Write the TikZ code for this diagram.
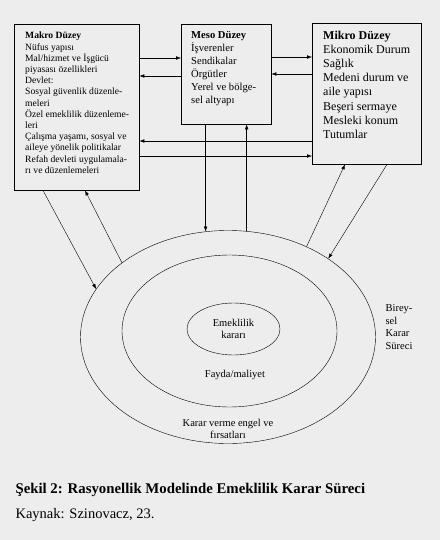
\documentclass[tikz,border=0pt]{standalone}
\usepackage{fontspec}
\setmainfont{Liberation Serif}
\usetikzlibrary{arrows.meta,shapes.geometric,calc}

\tikzset{
  box/.style={draw, thin, anchor=north west, inner sep=0pt},
  boxtext/.style={anchor=north west, align=left, inner sep=0pt},
  ring/.style={draw, ellipse, thin, inner sep=0pt},
  arr/.style={thin, -{Latex[length=5pt,width=3.6pt]}},
}

\begin{document}
\begin{tikzpicture}[x=1pt,y=-1pt]
    \useasboundingbox (0,0) rectangle (440,540);
    \fill[black!7] (0,0) rectangle (440,540);

    % The three levels
    \node[box, minimum width=125pt, minimum height=166pt] (makro) at (14,24) {};
    \node[box, minimum width=90pt, minimum height=100pt] (meso) at (181,24) {};
    \node[box, minimum width=109pt, minimum height=141pt] (mikro) at (312,23) {};

    \node[boxtext, font=\fontsize{9.6}{11.2}\selectfont] (makrotxt) at (25,32)
        {\textbf{Makro Düzey}\\Nüfus yapısı\\Mal/hizmet ve İşgücü\\piyasası özellikleri\\Devlet:\\
         Sosyal güvenlik düzenle-\\meleri\\Özel emeklilik düzenleme-\\leri\\
         Çalışma yaşamı, sosyal ve\\aileye yönelik politikalar\\Refah devleti uygulamala-\\rı ve düzenlemeleri};
    \node[boxtext, font=\fontsize{10.6}{13}\selectfont] (mesotxt) at (191,31)
        {\textbf{Meso Düzey}\\İşverenler\\Sendikalar\\Örgütler\\Yerel ve bölge-\\sel altyapı};
    \node[boxtext, font=\fontsize{12}{14.1}\selectfont] (mikrotxt) at (323,31)
        {\textbf{Mikro Düzey}\\Ekonomik Durum\\Sağlık\\Medeni durum ve\\aile yapısı\\Beşeri sermaye\\Mesleki konum\\Tutumlar};

    % Individual decision process
    \node[ring, minimum width=295pt, minimum height=213pt] (outer) at (228,337) {};
    \node[ring, minimum width=215pt, minimum height=152pt] (middle) at (229.5,331) {};
    \node[ring, minimum width=93pt, minimum height=52pt] (inner) at (233.5,329) {};

    \node[align=center, font=\fontsize{10.5}{12.3}\selectfont] (karar) at (inner.center) {Emeklilik\\kararı};
    \node[font=\fontsize{10.5}{12.3}\selectfont] (fayda) at (235,375) {Fayda/maliyet};
    \node[align=center, font=\fontsize{10.5}{12.3}\selectfont] (engel) at (228,429) {Karar verme engel ve\\fırsatları};
    \node[align=left, font=\fontsize{10.5}{12.8}\selectfont] (bireysel) at (399,327) {Birey-\\sel\\Karar\\Süreci};

    % Links between the levels
    \draw[arr] (makro.east |- 0,58) -- (meso.west |- 0,58);
    \draw[arr] (meso.west |- 0,76) -- (makro.east |- 0,76);
    \draw[arr] (meso.east |- 0,57) -- (mikro.west |- 0,57);
    \draw[arr] (mikro.west |- 0,74) -- (meso.east |- 0,74);
    \draw[arr] (mikro.west |- 0,141) -- (makro.east |- 0,141);
    \draw[arr] (makro.east |- 0,156) -- (mikro.west |- 0,156);

    % Links to the decision process
    \draw[arr] (outer.102 |- meso.south) -- (outer.102);
    \draw[arr] (outer.80) -- (outer.80 |- meso.south);
    \draw[arr] ($(makro.south west)+(29,0)$) -- (outer.160);
    \draw[arr] (outer.145) -- ($(makro.south west)+(71,0)$);
    \draw[arr] (outer.49) -- ($(mikro.south west)+(33,0)$);
    \draw[arr] ($(mikro.south west)+(75,0)$) -- (outer.38);

    % Caption
    \node[anchor=base west, font=\fontsize{14.8}{17}\selectfont\bfseries] (caption) at (12,493)
        {Şekil 2: Rasyonellik Modelinde Emeklilik Karar Süreci};
    \node[anchor=base west, font=\fontsize{14.5}{17}\selectfont] (source) at (12,518)
        {Kaynak: Szinovacz, 23.};
\end{tikzpicture}
\end{document}
